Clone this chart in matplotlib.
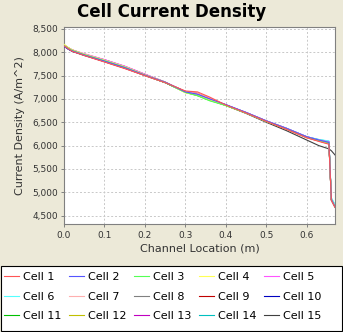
import matplotlib
matplotlib.use("Agg")
from matplotlib import pyplot as plt
from matplotlib.patches import Rectangle
from matplotlib.ticker import FuncFormatter
import numpy as np

# channel positions (m)
x = [0.0, 0.01, 0.02, 0.05, 0.1, 0.15, 0.2, 0.25, 0.3, 0.33, 0.36, 0.4,
     0.45, 0.5, 0.55, 0.6, 0.63, 0.655, 0.661, 0.67]

# current density per cell (A/m^2)
cell1 = [8140, 8080, 8020, 7930, 7790, 7650, 7500, 7350, 7170, 7150, 7040, 6870, 6700, 6520, 6350, 6170, 6090, 6030, 4830, 4680]
cell2 = [8130, 8070, 8030, 7940, 7810, 7670, 7510, 7360, 7150, 7100, 7000, 6880, 6710, 6530, 6370, 6190, 6120, 6070, 4850, 4690]
cell3 = [8150, 8090, 8040, 7950, 7820, 7680, 7510, 7350, 7140, 7070, 6960, 6860, 6700, 6520, 6360, 6180, 6110, 6060, 4840, 4690]
cell4 = [8170, 8100, 8050, 7960, 7830, 7690, 7520, 7360, 7130, 7080, 6980, 6860, 6700, 6520, 6360, 6180, 6110, 6060, 4850, 4700]
cell5 = [8160, 8100, 8050, 7970, 7840, 7700, 7530, 7360, 7150, 7090, 6990, 6870, 6710, 6530, 6370, 6190, 6120, 6080, 4850, 4700]
cell6 = [8150, 8090, 8040, 7950, 7820, 7680, 7520, 7360, 7150, 7090, 6990, 6870, 6710, 6530, 6370, 6190, 6130, 6100, 4880, 4740]
cell7 = [8140, 8080, 8030, 7940, 7800, 7660, 7500, 7350, 7160, 7120, 7020, 6870, 6700, 6520, 6350, 6170, 6100, 6040, 4830, 4680]
cell8 = [8150, 8090, 8040, 7950, 7810, 7670, 7510, 7350, 7150, 7090, 6990, 6870, 6700, 6520, 6360, 6180, 6110, 6060, 4840, 4690]
cell9 = [8140, 8080, 8030, 7940, 7800, 7660, 7500, 7350, 7160, 7120, 7010, 6870, 6700, 6520, 6350, 6170, 6100, 6040, 4830, 4680]
cell10 = [8130, 8070, 8020, 7940, 7800, 7660, 7510, 7350, 7150, 7090, 6990, 6870, 6700, 6520, 6360, 6180, 6110, 6060, 4840, 4690]
cell11 = [8150, 8090, 8040, 7950, 7820, 7680, 7510, 7350, 7140, 7070, 6970, 6860, 6700, 6520, 6360, 6180, 6110, 6060, 4840, 4690]
cell12 = [8160, 8100, 8050, 7960, 7830, 7690, 7520, 7360, 7140, 7080, 6980, 6860, 6700, 6520, 6360, 6180, 6110, 6060, 4850, 4700]
cell13 = [8160, 8100, 8050, 7960, 7840, 7700, 7530, 7360, 7150, 7090, 6990, 6870, 6710, 6530, 6370, 6190, 6120, 6070, 4850, 4700]
cell14 = [8150, 8090, 8040, 7950, 7820, 7680, 7520, 7360, 7150, 7090, 6990, 6870, 6710, 6530, 6370, 6190, 6130, 6090, 4870, 4730]
cell15 = [8130, 8070, 8020, 7930, 7800, 7660, 7500, 7350, 7160, 7100, 7010, 6860, 6690, 6500, 6320, 6120, 6000, 5930, 5890, 5800]

cells = [cell1, cell2, cell3, cell4, cell5, cell6, cell7, cell8,
         cell9, cell10, cell11, cell12, cell13, cell14, cell15]
labels = ["Cell %d" % (i + 1) for i in range(15)]
colors = ["#FF5555", "#5555FF", "#55FF55", "#FFFF55", "#FF55FF", "#55FFFF",
          "#FFAFAF", "#808080", "#C00000", "#0000C0", "#00C000", "#C0C000",
          "#C000C0", "#00C0C0", "#404040"]

bg = "#ECE9D8"
fig = plt.figure(figsize=(3.43, 3.32), dpi=100, facecolor=bg)
ax = fig.add_axes([64 / 343, 1 - 224.3 / 332, (335 - 64) / 343, (224.3 - 27) / 332])
ax.set_facecolor("white")

handles = []
for i, (vals, col) in enumerate(zip(cells, colors)):
    # first series ends up on top, like the original renderer
    h, = ax.plot(x, vals, color=col, lw=0.8, zorder=30 - i)
    handles.append(h)

ax.set_xlim(0, 0.67)
ax.set_ylim(4315, 8540)
ax.set_xticks(np.arange(0, 0.61, 0.1))
ax.set_yticks(np.arange(4500, 8501, 500))
ax.xaxis.set_major_formatter(FuncFormatter(lambda v, p: "%.1f" % v))
ax.yaxis.set_major_formatter(FuncFormatter(lambda v, p: "{:,.0f}".format(v)))
ax.grid(True, color="#C8C8C8", ls=(0, (2, 2)), lw=0.7)
ax.set_axisbelow(True)
for s in ax.spines.values():
    s.set_color("#808080")
    s.set_linewidth(0.8)
ax.tick_params(length=2.5, width=0.7, color="#808080", labelsize=6.5,
               labelcolor="#333333", pad=2)

fig.text(0.5, 1 - 12 / 332, "Cell Current Density", fontsize=12,
         fontweight="bold", ha="center", va="center")
ax.set_xlabel("Channel Location (m)", fontsize=8, color="#333333", labelpad=3)
ax.set_ylabel("Current Density (A/m^2)", fontsize=8, color="#333333")
ax.yaxis.set_label_coords(-0.145, 0.5)

# legend box
fig.patches.append(Rectangle((1 / 343, 1 / 332), 341 / 343, 65 / 332,
                             transform=fig.transFigure, facecolor="white",
                             edgecolor="black", lw=0.8))
order = []
for c in range(5):
    for r in range(3):
        order.append(r * 5 + c)
fig.legend([handles[k] for k in order], [labels[k] for k in order],
           ncol=5, loc="upper left", bbox_to_anchor=(4 / 343, 1 - 272 / 332),
           frameon=False, fontsize=8, handlelength=1.35, handletextpad=0.35,
           columnspacing=0.7, labelspacing=0.87, borderpad=0, borderaxespad=0)

fig.savefig("out.png", dpi=100, facecolor=bg)
